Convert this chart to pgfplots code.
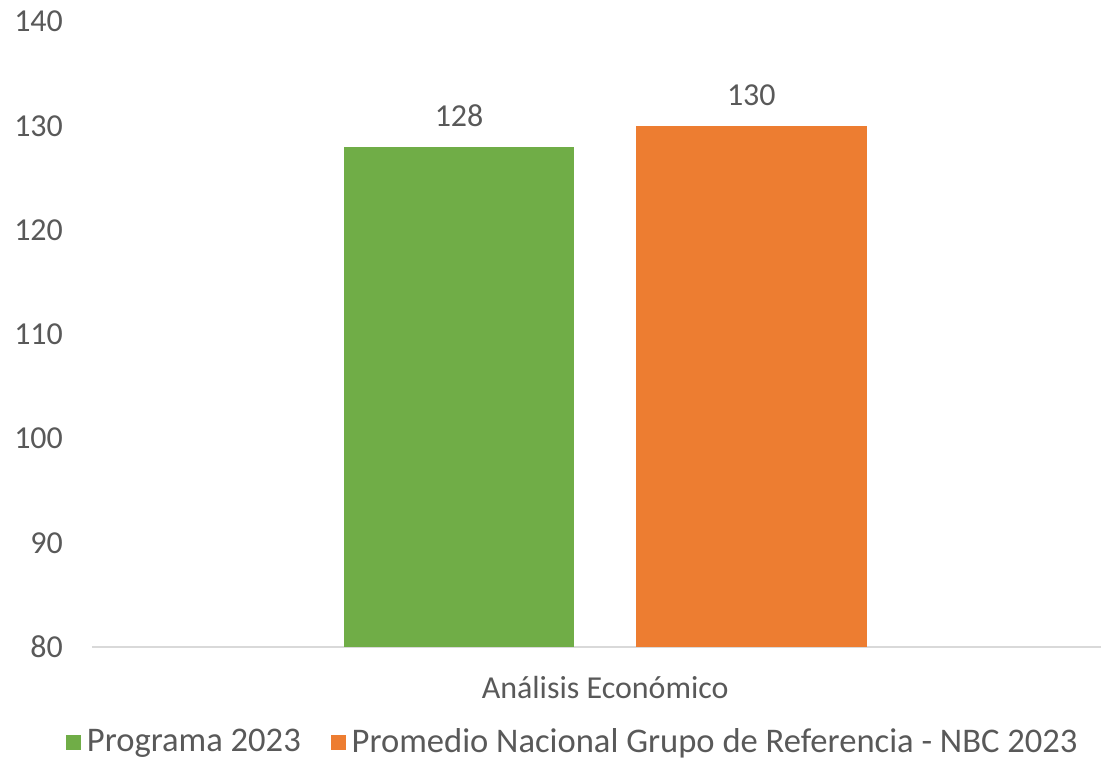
\documentclass[border=0pt]{standalone}
\usepackage{pgfplots}
\pgfplotsset{compat=1.18}
\usepackage{fontspec}
\setmainfont{Carlito}
\definecolor{txt}{HTML}{595959}
\definecolor{cgreen}{HTML}{70AD47}
\definecolor{corange}{HTML}{ED7D31}
\definecolor{axl}{HTML}{D9D9D9}
\begin{document}
\begin{tikzpicture}
\begin{axis}[
  at={(0,0)}, anchor=south west,
  scale only axis,
  width=505pt, height=313pt,
  xmin=-256.875, xmax=248.125,
  ymin=80, ymax=140,
  ytick={80,90,...,140},
  xtick={0}, xticklabels={Análisis Económico},
  axis lines=left,
  axis line style={-},
  y axis line style={draw=none},
  x axis line style={draw=axl, line width=1pt},
  major tick length=0pt,
  tick style={draw=none},
  ymajorgrids=false,
  /pgf/number format/assume math mode=true,
  ticklabel style={font=\fontsize{16}{19}\selectfont, text=txt},
  yticklabel style={xshift=-11pt},
  xticklabel style={yshift=-11pt},
  ybar, bar shift=0pt, bar width=115.5,
  nodes near coords,
  every node near coord/.append style={font=\fontsize{16}{19}\selectfont, text=txt, yshift=6.5pt},
  legend columns=2,
  legend style={draw=none, fill=none, inner sep=0pt, outer sep=0pt,
    at={(0,0)}, anchor=west, xshift=-13pt, yshift=-47.5pt,
    font=\fontsize{17.3}{20}\selectfont, text=txt,
    /tikz/every even column/.append style={column sep=13pt}},
  legend cell align=left,
  legend image code/.code={\fill[#1,draw=none] (0pt,-3.75pt) rectangle (7.5pt,3.75pt);},
]
\addplot[fill=cgreen, draw=none] coordinates {(-73.125,128)};
\addlegendentry{\hspace{1pt}Programa 2023}
\addplot[fill=corange, draw=none] coordinates {(73.125,130)};
\addlegendentry{\hspace{1pt}Promedio Nacional Grupo de Referencia - NBC 2023}
\end{axis}
\path[use as bounding box] (-46pt,-55pt) rectangle (505pt,323.85pt);
\end{tikzpicture}
\end{document}
